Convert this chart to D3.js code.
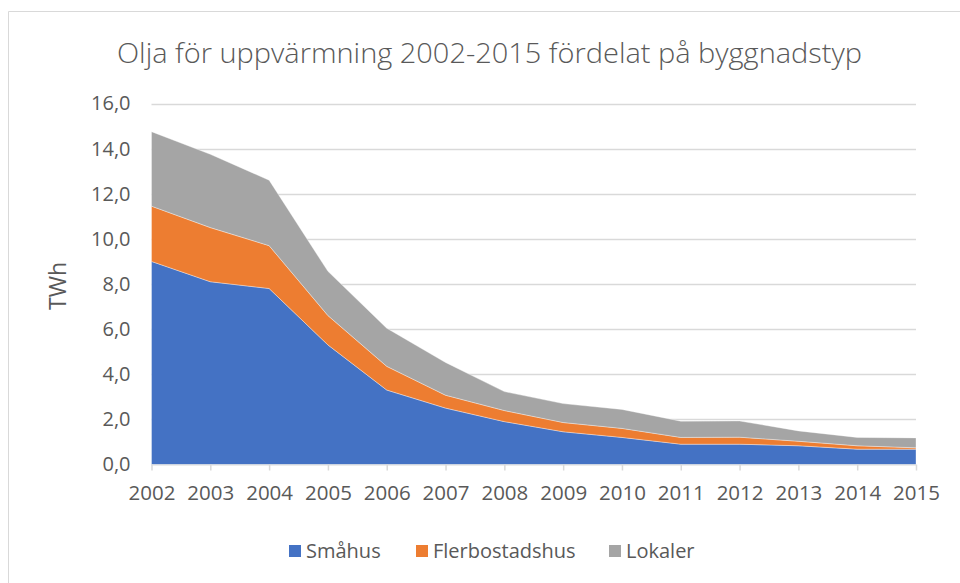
<!DOCTYPE html>
<html><head><meta charset="utf-8">
<script src="https://cdn.jsdelivr.net/npm/d3@7"></script>
<style>body{margin:0;background:#fff}svg{display:block}text{font-family:"Open Sans",sans-serif;fill:#595959}</style>
</head><body><svg id="c" width="960" height="583"></svg>
<script>
const years = [2002,2003,2004,2005,2006,2007,2008,2009,2010,2011,2012,2013,2014,2015];
const smahus = [9.0,8.1,7.8,5.3,3.3,2.5,1.9,1.45,1.2,0.9,0.9,0.83,0.68,0.68];
const flerbostadshus = [2.45,2.4,1.9,1.3,1.05,0.57,0.49,0.41,0.40,0.30,0.31,0.20,0.15,0.06];
const lokaler = [3.3,3.25,2.9,1.96,1.69,1.45,0.84,0.84,0.84,0.72,0.72,0.46,0.37,0.44];
const seriesNames = ["Småhus","Flerbostadshus","Lokaler"];
const colors = ["#4472C4","#ED7D31","#A5A5A5"];
const yTicks = [0,2,4,6,8,10,12,14,16];
const title = "Olja för uppvärmning 2002-2015 fördelat på byggnadstyp";

const svg = d3.select("#c");
svg.append("path").attr("d","M8.5,583 L8.5,11.5 L960,11.5").attr("fill","none").attr("stroke","#d9d9d9");

const x = d3.scalePoint().domain(years).range([151.5,916]);
const y = d3.scaleLinear().domain([0,16]).range([464.5,103.5]);

const table = years.map((yr,i)=>({year:yr, "Småhus":smahus[i], "Flerbostadshus":flerbostadshus[i], "Lokaler":lokaler[i]}));
const stack = d3.stack().keys(seriesNames)(table);

svg.append("g").selectAll("line").data(yTicks.slice(1)).join("line")
  .attr("x1",151.5).attr("x2",916).attr("y1",d=>Math.round(y(d))+0.5).attr("y2",d=>Math.round(y(d))+0.5)
  .attr("stroke","#d9d9d9").attr("stroke-width",1.5);

const area = d3.area().x(d=>x(d.data.year)).y0(d=>y(d[0])).y1(d=>y(d[1]));
svg.append("g").selectAll("path").data(stack).join("path")
  .attr("d",area).attr("fill",(d,i)=>colors[i]).attr("stroke","rgba(255,255,255,0.35)").attr("stroke-width",1);

const xAxis = d3.axisBottom(x).tickSize(6).tickPadding(15).tickFormat(d=>d);
const gx = svg.append("g").attr("transform","translate(0,464.5)").call(xAxis);
gx.select(".domain").attr("stroke","#d9d9d9").attr("d","M151.5,0.5H916");
gx.selectAll(".tick line").attr("stroke","#d9d9d9").attr("stroke-width",1.5);
gx.selectAll(".tick text").attr("font-size",20.5).attr("fill","#595959").attr("font-family","'Open Sans',sans-serif");

const yAxis = d3.axisLeft(y).tickValues(yTicks).tickSize(0).tickPadding(21).tickFormat(d=>d3.format(".1f")(d).replace(".",","));
const gy = svg.append("g").attr("transform","translate(151.5,0)").call(yAxis);
gy.select(".domain").remove();
gy.selectAll(".tick text").attr("font-size",20).attr("fill","#595959").attr("font-family","'Open Sans',sans-serif");

svg.append("text").attr("transform","translate(66,286) rotate(-90)").attr("text-anchor","middle")
  .attr("font-size",23).text("TWh");

svg.append("text").attr("x",489.5).attr("y",63).attr("text-anchor","middle").attr("font-size",27).attr("font-weight",300)
  .attr("textLength",745).attr("lengthAdjust","spacingAndGlyphs").text(title);

const legX = [289,416,609];
const lg = svg.append("g").selectAll("g").data(seriesNames).join("g").attr("transform",(d,i)=>`translate(${legX[i]},545)`);
lg.append("rect").attr("width",12).attr("height",12).attr("fill",(d,i)=>colors[i]);
lg.append("text").attr("x",17).attr("y",13).attr("font-size",20).text(d=>d);
</script></body></html>
